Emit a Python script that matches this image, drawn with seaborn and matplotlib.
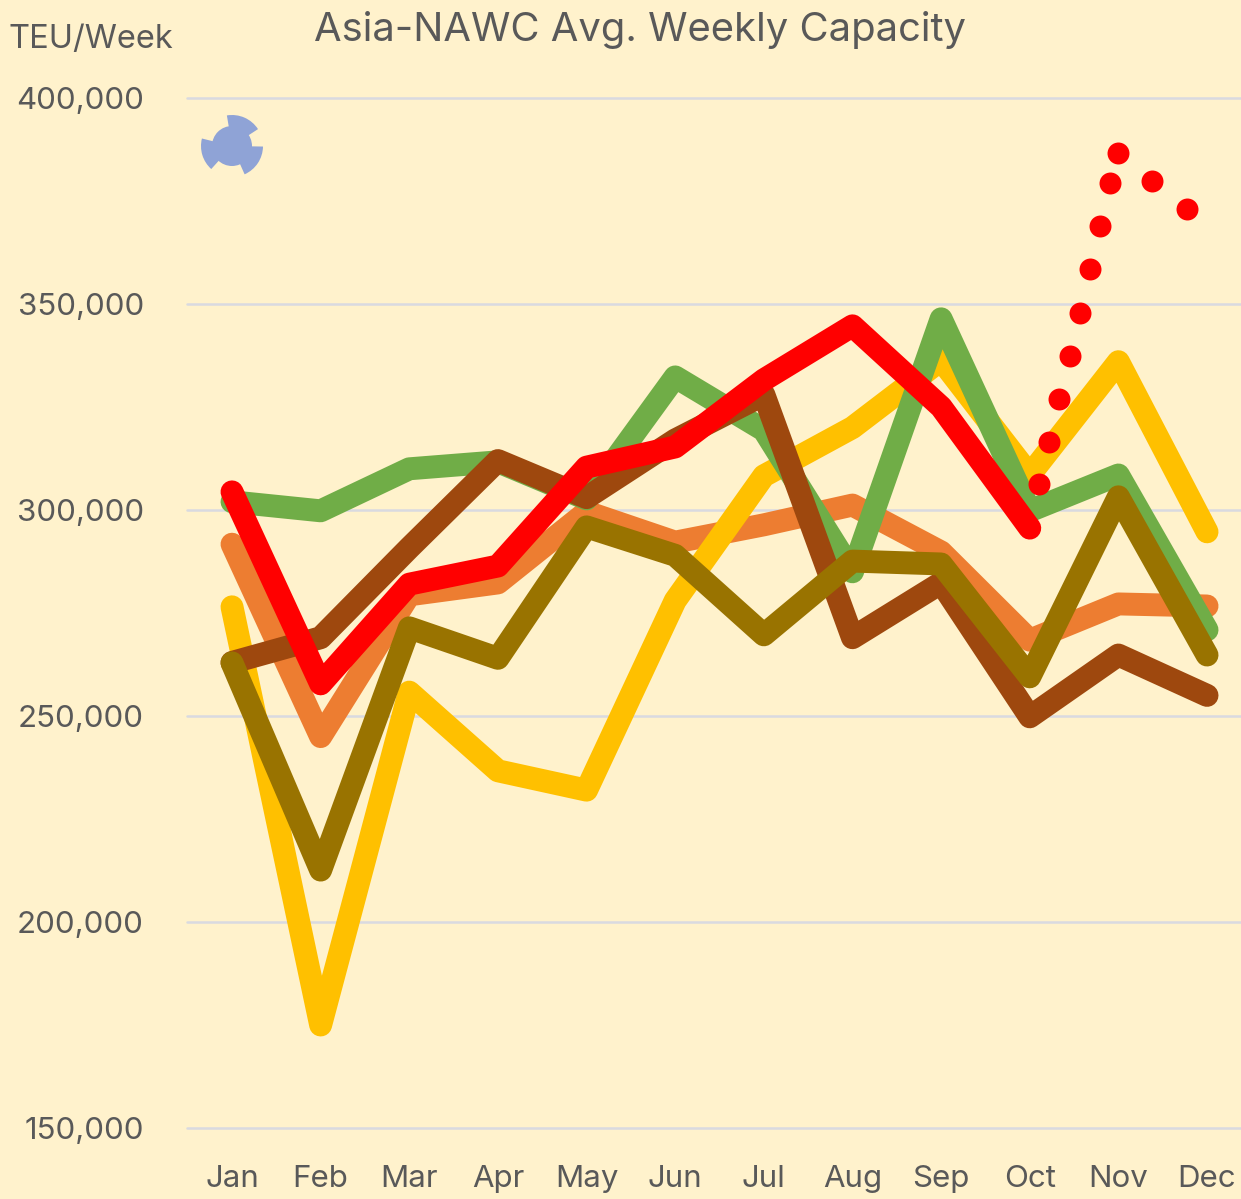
import matplotlib
matplotlib.use("Agg")
import matplotlib.pyplot as plt
from matplotlib.patches import Circle, Wedge
from matplotlib.ticker import StrMethodFormatter
import pandas as pd
import seaborn as sns

# Dane
months = ["Jan", "Feb", "Mar", "Apr", "May", "Jun", "Jul", "Aug", "Sep", "Oct", "Nov", "Dec"]
orange = [291700, 245000, 279400, 282300, 299500, 292200, 296400, 301200, 289800, 268400, 277200, 276700]
yellow = [276500, 175000, 255800, 236700, 232000, 278000, 308300, 320000, 336400, 308500, 336000, 294700]
green = [302000, 299800, 310000, 311700, 302700, 332300, 319400, 285000, 346400, 299800, 308500, 270900]
brown = [263000, 269000, 290800, 312000, 303000, 317000, 328000, 269000, 282300, 249800, 264800, 255000]
olive = [262900, 212600, 271400, 264000, 295900, 289000, 269700, 287600, 286900, 259500, 303200, 264800]
red = [304400, 257800, 282000, 286400, 310400, 315300, 331600, 344700, 325000, 295600]

# punkty prognozy (pozycja x w miesiacach, Jan = 0)
dots_x = [9.10, 9.22, 9.33, 9.45, 9.57, 9.68, 9.79, 9.91, 10.0, 10.38, 10.77]
dots_y = [306300, 316500, 327000, 337400, 347800, 358500, 369000, 379400, 386700, 379900, 373000]

y_ticks = [150000, 200000, 250000, 300000, 350000, 400000]

series = {"orange": orange, "yellow": yellow, "green": green, "brown": brown, "olive": olive, "red": red}
colors = {"yellow": "#FFC000", "orange": "#ED7D31", "green": "#70AD47",
          "brown": "#9E480E", "olive": "#997300", "red": "#FF0000"}

rows = []
for name, values in series.items():
    for i, v in enumerate(values):
        rows.append({"series": name, "month": i, "teu": v})
df = pd.DataFrame(rows)
df_dots = pd.DataFrame({"month": dots_x, "teu": dots_y})

bg = "#FFF2CC"
text_color = "#595959"

sns.set_style("white")
plt.rcParams["font.family"] = ["Inter", "DejaVu Sans"]

W, H = 1241, 1199
fig = plt.figure(figsize=(W / 100, H / 100), dpi=100, facecolor=bg)
ax = fig.add_axes([187 / W, 1 - 1128 / H, (W - 187) / W, (1128 - 98) / H], facecolor=bg)

sns.lineplot(data=df, x="month", y="teu", hue="series", hue_order=list(series), palette=colors,
             linewidth=16.5, legend=False, errorbar=None, ax=ax,
             solid_joinstyle="round", solid_capstyle="round", clip_on=False, zorder=3)
sns.scatterplot(data=df_dots, x="month", y="teu", color="#FF0000", s=250, linewidth=0,
                legend=False, ax=ax, zorder=4)

ax.set_xlim(-45 / 88.64, (W - 232) / 88.64)
ax.set_ylim(150000, 400000)
ax.set_xticks(range(len(months)))
ax.set_xticklabels(months)
ax.set_yticks(y_ticks)
ax.yaxis.set_major_formatter(StrMethodFormatter("{x:,.0f}"))
ax.set_xlabel("")
ax.set_ylabel("")
ax.grid(axis="y", color="#D9DAE0", linewidth=1.8, clip_on=False)
ax.set_axisbelow(True)
sns.despine(ax=ax, left=True, bottom=True, top=True, right=True)
ax.tick_params(axis="x", length=0, pad=26.5, labelsize=22.5, labelcolor=text_color)
ax.tick_params(axis="y", length=0, pad=31, labelsize=22.5, labelcolor=text_color)

fig.text(640 / W, 1 - 30 / H, "Asia-NAWC Avg. Weekly Capacity", ha="center", va="center",
         fontsize=28.8, color=text_color)
fig.text(9 / W, 1 - 39 / H, "TEU/Week", ha="left", va="center", fontsize=23.5, color=text_color)

# ikona w rogu, wspolrzedne w pikselach
overlay = fig.add_axes([0, 0, 1, 1], facecolor="none")
overlay.set_xlim(0, W)
overlay.set_ylim(H, 0)
overlay.axis("off")
icon = "#8FA3D6"
overlay.add_patch(Circle((232, 146), 20, color=icon, lw=0))
for a, b in [(-99.5, -33), (1, 66), (132, 194)]:
    overlay.add_patch(Wedge((232, 146), 31, a, b, color=icon, lw=0))

fig.savefig("out.png", dpi=100, facecolor=bg)
